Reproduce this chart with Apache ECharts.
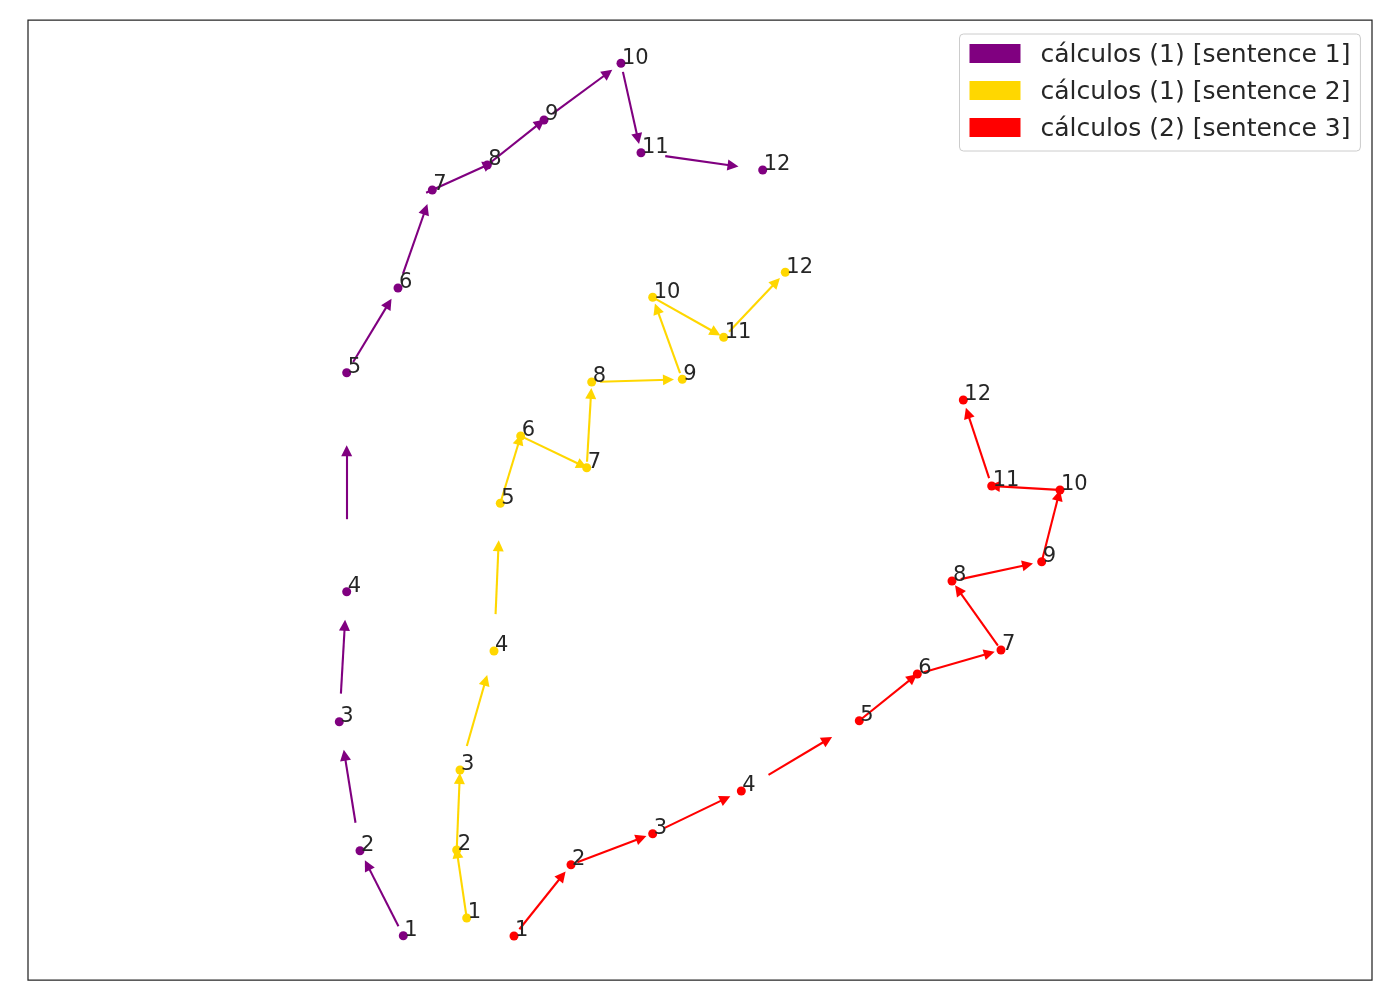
<!DOCTYPE html>
<html>
<head>
<meta charset="utf-8">
<script src="https://cdn.jsdelivr.net/npm/echarts@6/dist/echarts.min.js"></script>
<style>
  html, body { margin: 0; padding: 0; background: #fff; }
  #main { width: 1400px; height: 1000px; }
</style>
</head>
<body>
<div id="main"></div>
<script>
// 三组句子的轨迹点（坐标来自二维嵌入空间）
const names = ["cálculos (1) [sentence 1]", "cálculos (1) [sentence 2]", "cálculos (2) [sentence 3]"];
const colors = ["#800080", "#FFD700", "#FF0000"];
const steps = ["1", "2", "3", "4", "5", "6", "7", "8", "9", "10", "11", "12"];

const s1X = [403.3, 360, 339.3, 346.7, 346.7, 398, 432.3, 487.3, 544, 621, 641, 762.7];
const s1Y = [64.3, 149.3, 278.3, 408.3, 627.3, 712, 810, 835, 880, 936.7, 847.3, 830];

const s2X = [466.7, 456.7, 460, 494, 500.3, 520.7, 586.7, 591.7, 682.3, 652.7, 723.7, 785.3];
const s2Y = [82, 150, 230, 349, 496.7, 564, 532.3, 618, 620.7, 702.7, 662.7, 727.7];

const s3X = [514, 571, 652.7, 741.3, 859.3, 917.3, 1001, 952, 1041.7, 1060, 991.7, 963.3];
const s3Y = [64, 135.3, 166.3, 209, 279.3, 326, 350, 419, 438.3, 510, 514, 600];

const allX = [s1X, s2X, s3X];
const allY = [s1Y, s2Y, s3Y];

const ARROW_HALF = 37; // 箭头总长的一半（含箭头）
const HEAD = 11;

// 每两个相邻点之间画一个定长箭头，居中于中点
function arrows(xs, ys) {
  let out = [];
  for (let i = 0; i < xs.length - 1; i++) {
    let mx = (xs[i] + xs[i + 1]) / 2;
    let my = (ys[i] + ys[i + 1]) / 2;
    let dx = xs[i + 1] - xs[i];
    let dy = ys[i + 1] - ys[i];
    let d = Math.sqrt(dx * dx + dy * dy);
    let ux = dx / d, uy = dy / d;
    let a = ARROW_HALF, b = ARROW_HALF - HEAD / 2;
    out.push({ coords: [[mx - ux * a, my - uy * a], [mx + ux * b, my + uy * b]] });
  }
  return out;
}

let series = [];
names.forEach((name, k) => {
  series.push({
    name: name + " arrows",
    type: "lines",
    coordinateSystem: "cartesian2d",
    symbol: ["none", "triangle"],
    symbolSize: [9, HEAD],
    silent: true,
    lineStyle: { color: colors[k], width: 2.1, opacity: 1, curveness: 0 },
    data: arrows(allX[k], allY[k]),
    z: 2
  });
});
names.forEach((name, k) => {
  series.push({
    name: name,
    type: "scatter",
    symbol: "circle",
    symbolSize: 9,
    itemStyle: { color: colors[k], opacity: 1 },
    label: {
      show: true,
      position: [5.5, 10],
      align: "left",
      verticalAlign: "bottom",
      fontFamily: "DejaVu Sans",
      fontSize: 21,
      lineHeight: 21,
      color: "#262626",
      formatter: p => steps[p.dataIndex]
    },
    data: allX[k].map((x, i) => [x, allY[k][i]]),
    z: 3
  });
});

let myChart = echarts.init(document.getElementById("main"));
myChart.setOption({
  animation: false,
  backgroundColor: "#fff",
  grid: {
    left: 28,
    top: 20,
    width: 1344,
    height: 960,
    show: true,
    borderColor: "#262626",
    borderWidth: 1.25,
    backgroundColor: "#fff"
  },
  xAxis: {
    type: "value",
    min: 28,
    max: 1372,
    show: false
  },
  yAxis: {
    type: "value",
    min: 20,
    max: 980,
    show: false
  },
  legend: {
    data: names,
    orient: "vertical",
    left: 959.5,
    top: 34,
    padding: [5, 10, 9, 10],
    itemWidth: 51,
    itemHeight: 19,
    itemGap: 8,
    icon: "rect",
    backgroundColor: "rgba(255,255,255,0.8)",
    borderColor: "#cccccc",
    borderWidth: 1,
    borderRadius: 4,
    formatter: name => "{t|" + name + "}",
    textStyle: {
      fontFamily: "DejaVu Sans",
      fontSize: 25,
      lineHeight: 25,
      color: "#262626",
      padding: [0, 0, 0, 15],
      rich: {
        t: {
          fontFamily: "DejaVu Sans",
          fontSize: 25,
          lineHeight: 25,
          color: "#262626",
          padding: [4, 0, 0, 0]
        }
      }
    }
  },
  series: series
});
</script>
</body>
</html>
